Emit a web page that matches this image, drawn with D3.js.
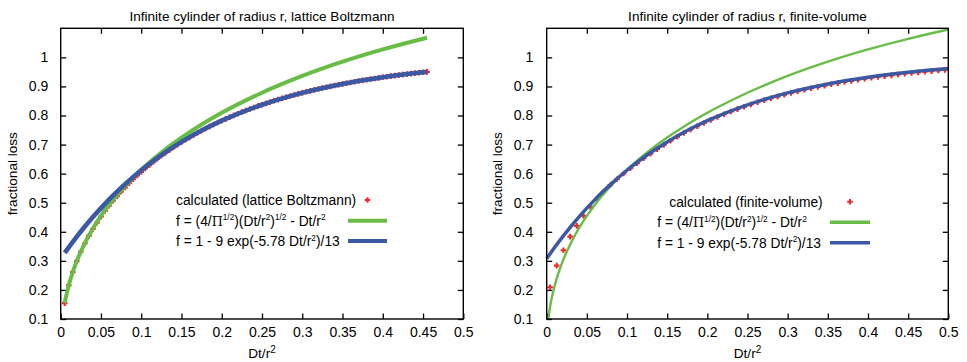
<!DOCTYPE html>
<html><head><meta charset="utf-8">
<script src="https://cdn.jsdelivr.net/npm/d3@7"></script>
<style>
body{margin:0;background:#fff}
svg{display:block}
text{font-family:"Liberation Sans",Arial,Helvetica,sans-serif;fill:#000}
</style>
</head><body>
<svg id="c" width="967" height="362"></svg>
<script>
// ---------------- data ----------------
const xTicks = [0,0.05,0.1,0.15,0.2,0.25,0.3,0.35,0.4,0.45,0.5];
const yTicks = [0.1,0.2,0.3,0.4,0.5,0.6,0.7,0.8,0.9,1.0];
const titles = ["Infinite cylinder of radius r, lattice Boltzmann","Infinite cylinder of radius r, finite-volume"];
const seriesNames = ["calculated (lattice Boltzmann)","calculated (finite-volume)"];

// lattice Boltzmann calculated points
const lbT = [0.005,0.01,0.015,0.02,0.025,0.03,0.035,0.04,0.045,0.05,0.055,0.06,0.065,0.07,0.075,0.08,0.085,0.09,0.095,0.1,
0.105,0.11,0.115,0.12,0.125,0.13,0.135,0.14,0.145,0.15,0.155,0.16,0.165,0.17,0.175,0.18,0.185,0.19,0.195,0.2,
0.205,0.21,0.215,0.22,0.225,0.23,0.235,0.24,0.245,0.25,0.255,0.26,0.265,0.27,0.275,0.28,0.285,0.29,0.295,0.3,
0.305,0.31,0.315,0.32,0.325,0.33,0.335,0.34,0.345,0.35,0.355,0.36,0.365,0.37,0.375,0.38,0.385,0.39,0.395,0.4,
0.405,0.41,0.415,0.42,0.425,0.43,0.435,0.44,0.445,0.45,0.455];
const lbF = [0.1545,0.2155,0.2611,0.2986,0.3311,0.3599,0.3860,0.4096,0.4316,0.4521,0.4714,0.4895,0.5066,0.5228,
0.5382,0.5529,0.5670,0.5805,0.5934,0.6058,0.6178,0.6293,0.6404,0.6511,
0.6614,0.6714,0.6810,0.6904,0.6994,0.7081,0.7166,0.7248,0.7328,0.7405,
0.7480,0.7552,0.7623,0.7691,0.7757,0.7821,0.7884,0.7945,0.8003,0.8060,
0.8116,0.8170,0.8222,0.8273,0.8322,0.8370,0.8417,0.8462,0.8506,0.8548,
0.8590,0.8630,0.8669,0.8707,0.8744,0.8780,0.8815,0.8848,0.8881,0.8913,
0.8944,0.8974,0.9003,0.9032,0.9059,0.9086,0.9112,0.9138,0.9162,0.9186,
0.9209,0.9232,0.9254,0.9275,0.9296,0.9316,0.9335,0.9354,0.9373,0.9390,
0.9408,0.9425,0.9441,0.9457,0.9473,0.9488,0.9502];

// finite-volume calculated points
const fvT = [0.0042,0.0125,0.0208,0.0292,0.0375,0.0458,0.0542,0.0625,0.0708,0.0792,
0.0875,0.0958,0.1042,0.1125,0.1208,0.1292,0.1375,0.1458,0.1542,0.1625,
0.1708,0.1792,0.1875,0.1958,0.2042,0.2125,0.2208,0.2292,0.2375,0.2458,
0.2542,0.2625,0.2708,0.2792,0.2875,0.2958,0.3042,0.3125,0.3208,0.3292,
0.3375,0.3458,0.3542,0.3625,0.3708,0.3792,0.3875,0.3958,0.4042,0.4125,
0.4208,0.4292,0.4375,0.4458,0.4542,0.4625,0.4708,0.4792,0.4875,0.4958];
const fvF = [0.2090,0.2836,0.3363,0.3833,0.4202,0.4553,0.4863,0.5132,0.5374,0.5605,
0.5808,0.6005,0.6188,0.6359,0.6528,0.6687,0.6837,0.6989,0.7132,0.7268,
0.7397,0.7520,0.7632,0.7743,0.7849,0.7949,0.8045,0.8136,0.8218,0.8300,
0.8379,0.8454,0.8525,0.8593,0.8658,0.8720,0.8779,0.8835,0.8888,0.8939,
0.8983,0.9029,0.9073,0.9115,0.9155,0.9193,0.9229,0.9264,0.9297,0.9328,
0.9353,0.9382,0.9409,0.9435,0.9460,0.9483,0.9506,0.9527,0.9547,0.9567];

// analytic curves, read at sample abscissae
const curveT     = [0,0.001,0.0025,0.005,0.0075,0.01,0.015,0.02,0.03,0.04,0.05,0.06,0.07,0.08,0.1,0.125,0.15,0.175,0.2,0.25,0.3,0.35,0.4,0.45,0.455,0.5];
const shortTimeF = [0,0.0704,0.1103,0.1546,0.1879,0.2157,0.2614,0.2992,0.3609,0.4114,0.4546,0.4928,0.5271,0.5583,0.6137,0.6729,0.7240,0.7691,0.8093,0.8784,0.9361,0.9851,1.0273,1.0639,1.0673,1.0958];
const longTimeF  = [0.3077,0.3117,0.3176,0.3274,0.3371,0.3466,0.3652,0.3833,0.4180,0.4507,0.4815,0.5107,0.5382,0.5641,0.6117,0.6640,0.7092,0.7484,0.7822,0.8369,0.8779,0.9085,0.9315,0.9487,0.9502,0.9616];

// ---------------- drawing ----------------
const GREEN = "#68bd46", BLUE = "#3a58a4", RED = "#f02a2a";
const svg = d3.select("#c");
const yTop = 28.3, yBot = 319;

const panels = [
  {i:0, x0:60.7, x1:463.3, tMin:0.005, tMax:0.455, T:lbT, F:lbF, gw:4, bw:4.6,
   leg:{nameX:176, x:[176,176], rows:[200,220.7,241], samp:[348,387], sw:4}, ylabX:17, tickPad:12.4},
  {i:1, x0:546.7, x1:948.3, tMin:0, tMax:0.5, T:fvT, F:fvF, gw:2.4, bw:3.5,
   leg:{nameX:669.3, x:[657.3,657.3], rows:[201.7,222.3,242.7], samp:[830,870], sw:3.6}, ylabX:502, tickPad:13.5}
];

const plusPath = "M-2.8,0H2.8M0,-2.8V2.8";

function rich(sel, parts, size){
  parts.forEach(p=>{
    const t = sel.append("tspan").text(p.s);
    if(p.sup){ t.attr("font-size", size*0.6).attr("dy", -size*0.38); }
    if(p.serif){ t.style("font-family","'DejaVu Serif','Liberation Serif',serif").attr("font-size", size*0.92); }
    if(p.after){ t.attr("dy", size*0.38); }
  });
}

panels.forEach(p=>{
  const x = d3.scaleLinear().domain([0,0.5]).range([p.x0,p.x1]);
  const y = d3.scaleLinear().domain([0.1,1.1]).range([yBot,yTop]);
  const g = svg.append("g");

  const clipId = "clip"+p.i;
  svg.append("clipPath").attr("id",clipId).append("rect")
     .attr("x",p.x0-4).attr("y",yTop-4).attr("width",p.x1-p.x0+8).attr("height",yBot-yTop+4);

  // axes (inward ticks on all sides)
  const fmtX = d=> d===0?"0":String(+d.toFixed(2));
  const fmtY = d=> String(+d.toFixed(1));
  g.append("g").attr("transform",`translate(0,${yBot})`)
    .call(d3.axisBottom(x).tickValues(xTicks).tickSize(-5.5).tickPadding(8).tickFormat(fmtX));
  g.append("g").attr("transform",`translate(0,${yTop})`)
    .call(d3.axisTop(x).tickValues(xTicks.slice(1,-1)).tickSize(-5.5).tickFormat(""));
  g.append("g").attr("transform",`translate(${p.x0},0)`)
    .call(d3.axisLeft(y).tickValues(yTicks).tickSize(-5.5).tickPadding(p.tickPad).tickFormat(fmtY));
  g.append("g").attr("transform",`translate(${p.x1},0)`)
    .call(d3.axisRight(y).tickValues(yTicks).tickSize(-5.5).tickFormat(""));
  g.selectAll(".domain").remove();
  g.selectAll(".tick line").attr("stroke","#000").attr("stroke-width",1.3);
  g.selectAll(".tick text").attr("font-size",14).style("font-family","'Liberation Sans',Arial,sans-serif").attr("fill","#000");

  const plot = svg.append("g").attr("clip-path",`url(#${clipId})`);

  // calculated points
  const pts = p.T.map((t,k)=>({t, f:p.F[k]}));
  plot.selectAll("path.pt").data(pts).join("path").attr("class","pt")
    .attr("d",plusPath)
    .attr("transform",d=>`translate(${x(d.t)},${y(d.f)})`)
    .attr("stroke",RED).attr("stroke-width",2.1).attr("fill","none");

  const curveData = (vals)=> curveT.map((t,k)=>({t, f:vals[k]})).filter(d=>d.t>=p.tMin-1e-9 && d.t<=p.tMax+1e-9);
  const line = d3.line().x(d=>x(d.t)).y(d=>y(d.f)).curve(d3.curveMonotoneX);

  plot.append("path").datum(curveData(shortTimeF)).attr("d",line)
    .attr("fill","none").attr("stroke",GREEN).attr("stroke-width",p.gw);
  plot.append("path").datum(curveData(longTimeF)).attr("d",line)
    .attr("fill","none").attr("stroke",BLUE).attr("stroke-width",p.bw);

  // frame
  svg.append("rect").attr("x",p.x0).attr("y",yTop).attr("width",p.x1-p.x0).attr("height",yBot-yTop)
    .attr("fill","none").attr("stroke","#000").attr("stroke-width",1.4);

  // title
  svg.append("text").attr("x",(p.x0+p.x1)/2).attr("y",20.5).attr("text-anchor","middle")
    .attr("font-size",13.6).text(titles[p.i]);

  // axis labels
  const xl = svg.append("text").attr("x",(p.x0+p.x1)/2).attr("y",358).attr("text-anchor","middle").attr("font-size",13.6);
  xl.append("tspan").text("Dt/r");
  xl.append("tspan").text("2").attr("font-size",10).attr("dy",-5.5);
  svg.append("text").attr("transform",`translate(${p.ylabX},${(yTop+yBot)/2}) rotate(-90)`)
    .attr("text-anchor","middle").attr("font-size",13.6).text("fractional loss");

  // legend
  const L = p.leg, fs = 13.8;
  svg.append("text").attr("x",L.nameX).attr("y",L.rows[0]+4.8).attr("font-size",fs).text(seriesNames[p.i]);
  svg.append("path").attr("d",plusPath).attr("transform",`translate(${(L.samp[0]+L.samp[1])/2},${L.rows[0]})`)
    .attr("stroke",RED).attr("stroke-width",2.1).attr("fill","none");

  const t2 = svg.append("text").attr("x",L.x[0]).attr("y",L.rows[1]+4.8).attr("font-size",fs);
  rich(t2,[{s:"f = (4/"},{s:"Π",serif:true},{s:"1/2",sup:true},{s:")(Dt/r",after:true},{s:"2",sup:true},
           {s:")",after:true},{s:"1/2",sup:true},{s:" - Dt/r",after:true},{s:"2",sup:true}],fs);
  svg.append("line").attr("x1",L.samp[0]).attr("x2",L.samp[1]).attr("y1",L.rows[1]).attr("y2",L.rows[1])
    .attr("stroke",GREEN).attr("stroke-width",L.sw);

  const t3 = svg.append("text").attr("x",L.x[1]).attr("y",L.rows[2]+4.8).attr("font-size",fs);
  rich(t3,[{s:"f = 1 - 9 exp(-5.78 Dt/r"},{s:"2",sup:true},{s:")/13",after:true}],fs);
  svg.append("line").attr("x1",L.samp[0]).attr("x2",L.samp[1]).attr("y1",L.rows[2]).attr("y2",L.rows[2])
    .attr("stroke",BLUE).attr("stroke-width",L.sw);
});
</script>
</body></html>
